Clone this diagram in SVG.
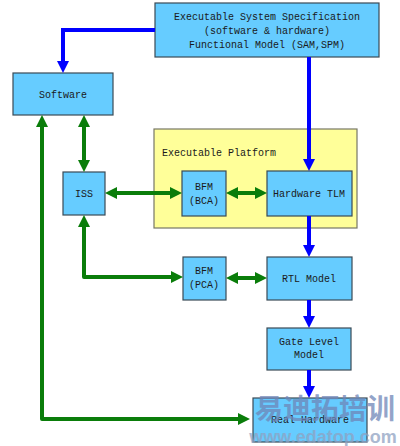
<svg xmlns="http://www.w3.org/2000/svg" width="400" height="446" viewBox="0 0 400 446">
<style>
.box{fill:#66ccff;stroke:#3a4a55;stroke-width:1.2}
.plat{fill:#ffff99;stroke:#777766;stroke-width:1.2}
.t{font-family:"Liberation Mono","DejaVu Sans Mono",monospace;font-size:10px;fill:#1a1a1a;text-anchor:middle}
.bl{fill:none;stroke:#0000ff;stroke-width:4}
.gr{fill:none;stroke:#0a7d0a;stroke-width:4;stroke-linejoin:round}
</style>
<defs>
<marker id="ab" viewBox="0 0 12 12" markerUnits="userSpaceOnUse" markerWidth="12" markerHeight="12" refX="4" refY="6" orient="auto"><path d="M0,0 L12,6 L0,12 z" fill="#0000ff"/></marker>
<marker id="ag" viewBox="0 0 12 12" markerUnits="userSpaceOnUse" markerWidth="12" markerHeight="12" refX="4" refY="6" orient="auto-start-reverse"><path d="M0,0 L12,6 L0,12 z" fill="#0a7d0a"/></marker>
</defs>
<g id="platform"><rect class="plat" x="154" y="129" width="203" height="99"/><text class="t" x="162" y="156" style="text-anchor:start">Executable Platform</text></g>
<g id="spec"><rect class="box" x="155" y="3" width="224" height="54"/><text class="t" x="267" y="20">Executable System Specification</text><text class="t" x="267" y="34">(software &amp; hardware)</text><text class="t" x="267" y="48">Functional Model (SAM,SPM)</text></g>
<g id="software"><rect class="box" x="13" y="73" width="100" height="42"/><text class="t" x="63" y="98">Software</text></g>
<g id="iss"><rect class="box" x="63" y="172" width="42" height="43"/><text class="t" x="84" y="197">ISS</text></g>
<g id="bfm-bca"><rect class="box" x="182" y="171" width="44" height="45"/><text class="t" x="204" y="190">BFM</text><text class="t" x="204" y="204">(BCA)</text></g>
<g id="hw-tlm"><rect class="box" x="267" y="171" width="85" height="45"/><text class="t" x="309" y="197">Hardware TLM</text></g>
<g id="bfm-pca"><rect class="box" x="183" y="257" width="43" height="43"/><text class="t" x="204" y="274">BFM</text><text class="t" x="204" y="288">(PCA)</text></g>
<g id="rtl"><rect class="box" x="267" y="257" width="85" height="43"/><text class="t" x="309" y="282">RTL Model</text></g>
<g id="gate"><rect class="box" x="267" y="328" width="84" height="42"/><text class="t" x="309" y="345">Gate Level</text><text class="t" x="309" y="358">Model</text></g>
<g id="real-hw"><rect class="box" x="253" y="398" width="114" height="44"/><text class="t" x="310" y="423">Real Hardware</text></g>
<g id="connectors">
<path class="bl" d="M155,30 H63 V65" marker-end="url(#ab)"/>
<path class="bl" d="M309,57 V163" marker-end="url(#ab)"/>
<path class="bl" d="M309,216 V249" marker-end="url(#ab)"/>
<path class="bl" d="M309,300 V320" marker-end="url(#ab)"/>
<path class="bl" d="M309,370 V390" marker-end="url(#ab)"/>
<path class="gr" d="M84,123 V164" marker-start="url(#ag)" marker-end="url(#ag)"/>
<path class="gr" d="M42,123 V419 H242" marker-start="url(#ag)" marker-end="url(#ag)"/>
<path class="gr" d="M113,193 H174" marker-start="url(#ag)" marker-end="url(#ag)"/>
<path class="gr" d="M234,193 H259" marker-start="url(#ag)" marker-end="url(#ag)"/>
<path class="gr" d="M84,223 V277 H175" marker-start="url(#ag)" marker-end="url(#ag)"/>
<path class="gr" d="M234,278 H259" marker-start="url(#ag)" marker-end="url(#ag)"/>
</g>
<g id="watermark" opacity="0.75">
<text x="325" y="419" font-family="'Noto Sans CJK SC',sans-serif" font-size="28" font-weight="bold" fill="#6f86b8" text-anchor="middle">易迪拓培训</text>
<text x="323" y="443" font-family="'Liberation Sans',Arial,sans-serif" font-size="18" font-weight="bold" fill="#8fa2c2" text-anchor="middle">www.edatop.com</text>
</g>
</svg>
